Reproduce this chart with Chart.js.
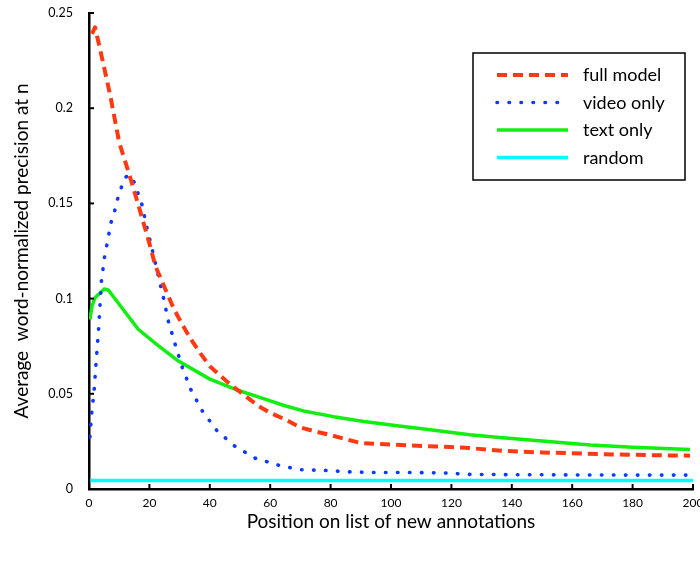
<!DOCTYPE html>
<html>
<head>
<meta charset="utf-8">
<script src="https://cdn.jsdelivr.net/npm/chart.js@4/dist/chart.umd.min.js"></script>
<style>
  html, body { margin: 0; padding: 0; background: #fff; overflow: hidden; }
  #wrap { width: 700px; height: 561px; overflow: hidden; }
</style>
</head>
<body>
<div id="wrap"><canvas id="precChart" width="712" height="561"></canvas></div>
<script>
// Valeurs
const fullModelN = [1, 2, 3.6, 7, 10, 13, 16, 20, 22, 25, 28, 31, 34, 37, 40, 46, 50, 56, 60, 65, 70, 75, 80, 85, 90, 95, 105, 117, 126, 137, 150, 170, 185, 199];
const fullModelP = [0.239, 0.2425, 0.2315, 0.207, 0.182, 0.167, 0.151, 0.129, 0.117, 0.106, 0.095, 0.086, 0.078, 0.071, 0.0645, 0.056, 0.051, 0.0437, 0.040, 0.0365, 0.0323, 0.0302, 0.0283, 0.0262, 0.0241, 0.0237, 0.023, 0.0222, 0.0215, 0.0200, 0.0192, 0.0183, 0.0178, 0.0175];

const videoOnlyN = [0.3, 0.9, 1.75, 2.3, 3.2, 4.1, 5.1, 5.9, 7.3, 8.5, 9.4, 10.6, 12, 13.5, 15, 16.3, 17.6, 19.2, 21.1, 22.9, 24.7, 26.3, 28.6, 30.9, 33.8, 37.5, 42.3, 48.1, 55, 62.5, 70, 78, 86, 94, 106, 118, 126, 140, 160, 180, 199];
const videoOnlyP = [0.0274, 0.040, 0.0528, 0.0655, 0.0844, 0.109, 0.1214, 0.128, 0.140, 0.146, 0.152, 0.158, 0.1637, 0.165, 0.161, 0.155, 0.149, 0.137, 0.1246, 0.1123, 0.100, 0.088, 0.0756, 0.0638, 0.052, 0.041, 0.0308, 0.0227, 0.0162, 0.0126, 0.0101, 0.0098, 0.009, 0.0087, 0.0087, 0.0084, 0.0077, 0.0075, 0.0074, 0.0073, 0.0073];

const textOnlyN = [0.3, 1, 2, 5, 6.4, 16.3, 22.4, 29.6, 40, 48.3, 58.3, 64.3, 71, 81, 91, 102, 113, 126, 136, 150, 166, 180, 199];
const textOnlyP = [0.089, 0.096, 0.1005, 0.105, 0.1045, 0.0839, 0.076, 0.0672, 0.0577, 0.0524, 0.0472, 0.0440, 0.041, 0.038, 0.0355, 0.0332, 0.0311, 0.0285, 0.0271, 0.0252, 0.0231, 0.0219, 0.0207];

const randomN = [0.5, 200];
const randomP = [0.0045, 0.0045];

const seriesNames = ['full model', 'video only', 'text only', 'random'];
const xTickLabels = ['0', '20', '40', '60', '80', '100', '120', '140', '160', '180', '200'];
const yTickLabels = ['0', '0.05', '0.1', '0.15', '0.2', '0.25'];

function toPoints(xs, ys) {
    return xs.map(function(x, i) { return { x: x, y: ys[i] }; });
}

const FONT = 'Lato, "Open Sans", sans-serif';

// Petites graduations vers l'intérieur
const innerTicks = {
    id: 'innerTicks',
    afterDatasetsDraw: function(chart) {
        const ctx = chart.ctx;
        const xs = chart.scales.x;
        const ys = chart.scales.y;
        const area = chart.chartArea;
        ctx.save();
        ctx.strokeStyle = '#000';
        ctx.lineWidth = 2;
        xs.ticks.forEach(function(t) {
            const px = xs.getPixelForValue(t.value);
            ctx.beginPath();
            ctx.moveTo(px, area.bottom);
            ctx.lineTo(px, area.bottom - 5);
            ctx.stroke();
        });
        ys.ticks.forEach(function(t) {
            const py = ys.getPixelForValue(t.value);
            ctx.beginPath();
            ctx.moveTo(area.left, py);
            ctx.lineTo(area.left + 5, py);
            ctx.stroke();
        });
        ctx.restore();
    }
};

// Légende encadrée dans la zone du graphique
const boxLegend = {
    id: 'boxLegend',
    afterDraw: function(chart) {
        const ctx = chart.ctx;
        const left = 473, top = 53, width = 212, height = 127;
        ctx.save();
        ctx.fillStyle = '#fff';
        ctx.fillRect(left, top, width, height);
        ctx.strokeStyle = '#000';
        ctx.lineWidth = 1.5;
        ctx.strokeRect(left, top, width, height);
        ctx.font = '18px ' + FONT;
        ctx.textBaseline = 'alphabetic';
        chart.data.datasets.forEach(function(ds, i) {
            const y = 75 + i * 27.5;
            ctx.strokeStyle = ds.borderColor;
            ctx.lineWidth = ds.borderWidth;
            ctx.lineCap = ds.borderCapStyle || 'butt';
            ctx.setLineDash(ds.borderDash || []);
            ctx.beginPath();
            ctx.moveTo(497, y);
            ctx.lineTo(568, y);
            ctx.stroke();
            ctx.setLineDash([]);
            ctx.fillStyle = '#000';
            ctx.fillText(ds.label, 583, y + 6);
        });
        ctx.restore();
    }
};

const precChart = new Chart(document.getElementById('precChart'), {
    type: 'line',
    data: {
        datasets: [
            {
                label: seriesNames[0],
                data: toPoints(fullModelN, fullModelP),
                borderColor: '#ff3a12',
                borderWidth: 4,
                borderDash: [10, 6],
                borderCapStyle: 'butt'
            },
            {
                label: seriesNames[1],
                data: toPoints(videoOnlyN, videoOnlyP),
                borderColor: '#1038ff',
                borderWidth: 3.6,
                borderDash: [0.5, 11.5],
                borderCapStyle: 'round'
            },
            {
                label: seriesNames[2],
                data: toPoints(textOnlyN, textOnlyP),
                borderColor: '#12ee12',
                borderWidth: 3.5,
                borderCapStyle: 'butt'
            },
            {
                label: seriesNames[3],
                data: toPoints(randomN, randomP),
                borderColor: '#00ffff',
                borderWidth: 3.5,
                borderCapStyle: 'butt'
            }
        ]
    },
    options: {
        responsive: false,
        animation: false,
        devicePixelRatio: 1,
        layout: { padding: { top: 13, right: 19, left: 0, bottom: 0 } },
        elements: {
            point: { radius: 0 },
            line: { tension: 0, borderJoinStyle: 'round' }
        },
        plugins: {
            legend: { display: false },
            tooltip: { enabled: false }
        },
        scales: {
            x: {
                type: 'linear',
                min: 0,
                max: 200,
                afterFit: function(scale) { scale.height = 72; },
                ticks: {
                    stepSize: 20,
                    padding: 2,
                    color: '#000',
                    font: { family: FONT, size: 12 },
                    maxRotation: 0,
                    callback: function(value) { return xTickLabels[Math.round(value / 20)]; }
                },
                // graduations transparentes : elles ne servent qu'à décaler les étiquettes
                grid: { drawOnChartArea: false, drawTicks: true, tickLength: 5, tickColor: 'rgba(0,0,0,0)' },
                border: { color: '#000', width: 2.5 },
                title: {
                    display: true,
                    text: 'Position on list of new annotations',
                    color: '#000',
                    font: { family: FONT, size: 19 },
                    padding: { top: 0, bottom: 28 }
                }
            },
            y: {
                min: 0,
                max: 0.25,
                afterFit: function(scale) { scale.width = 89; },
                ticks: {
                    stepSize: 0.05,
                    padding: 2,
                    color: '#000',
                    font: { family: FONT, size: 12.5 },
                    callback: function(value) { return yTickLabels[Math.round(value / 0.05)]; }
                },
                grid: { drawOnChartArea: false, drawTicks: true, tickLength: 14, tickColor: 'rgba(0,0,0,0)' },
                border: { color: '#000', width: 2.5 },
                title: {
                    display: true,
                    text: 'Average  word-normalized precision at n',
                    color: '#000',
                    font: { family: FONT, size: 19 },
                    padding: { top: 10, bottom: 0 }
                }
            }
        }
    },
    plugins: [innerTicks, boxLegend]
});
</script>
</body>
</html>
